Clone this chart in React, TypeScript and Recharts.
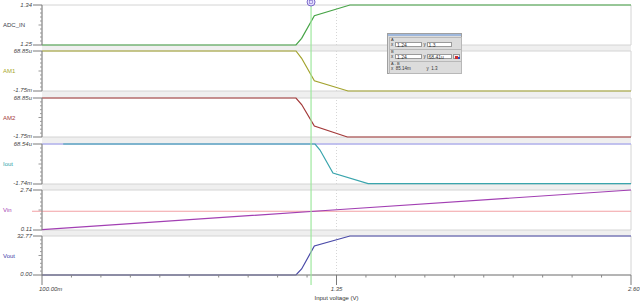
import React from 'react';
import { LineChart, Line, XAxis, YAxis, ReferenceLine, ReferenceArea, CartesianGrid } from 'recharts';

const X_DOMAIN: [number, number] = [0.1, 2.6];
const X_TICK_LABELS = ['100.00m', '1.35', '2.60'];
const X_MAJOR = [0.1, 1.35, 2.6];
const X_TITLE = 'Input voltage (V)';
const CURSOR_X = 1.242;
const GRID_X = 1.35;

const adcX = [0.1, 1.178, 1.202, 1.256, 1.407, 2.6];
const adcY = [1.25, 1.25, 1.265, 1.316, 1.34, 1.34];
const am1X = [0.1, 1.178, 1.202, 1.256, 1.399, 2.6];
const am1Y = [68.85e-6, 68.85e-6, -0.263e-3, -1.282e-3, -1.75e-3, -1.75e-3];
const am2X = [0.1, 1.178, 1.202, 1.256, 1.396, 2.6];
const am2Y = [68.85e-6, 68.85e-6, -0.234e-3, -1.237e-3, -1.75e-3, -1.75e-3];
const ioutX = [0.19, 1.259, 1.28, 1.335, 1.484, 2.6];
const ioutY = [68.54e-6, 68.54e-6, -0.203e-3, -1.243e-3, -1.72e-3, -1.72e-3];
const ioutTopX = [0.1, 2.6];
const ioutTopY = [68.54e-6, 68.54e-6];
const vinX = [0.1, 1.35, 2.6];
const vinY = [0.13, 1.44, 2.74];
const VIN_REF = 1.34;
const voutX = [0.1, 1.178, 1.202, 1.256, 1.407, 2.6];
const voutY = [0, 0, 5.04, 24.37, 32.77, 32.77];

type PanelCfg = {
  name: string;
  color: string;
  labelColor: string;
  top: number;
  bottom: number;
  xs: number[];
  ys: number[];
  domain: [number, number];
  labels: [string, string];
};

const PANELS: PanelCfg[] = [
  { name: 'ADC_IN', color: '#47a447', labelColor: '#3a3a4a', top: 5, bottom: 45, xs: adcX, ys: adcY, domain: [1.25, 1.34], labels: ['1.25', '1.34'] },
  { name: 'AM1', color: '#a3a32e', labelColor: '#a8a82a', top: 51, bottom: 91, xs: am1X, ys: am1Y, domain: [-1.75e-3, 68.85e-6], labels: ['-1.75m', '68.85u'] },
  { name: 'AM2', color: '#a33838', labelColor: '#a33838', top: 98, bottom: 137, xs: am2X, ys: am2Y, domain: [-1.75e-3, 68.85e-6], labels: ['-1.75m', '68.85u'] },
  { name: 'Iout', color: '#3aa5ad', labelColor: '#2f9fa8', top: 144, bottom: 184, xs: ioutX, ys: ioutY, domain: [-1.74e-3, 68.54e-6], labels: ['-1.74m', '68.54u'] },
  { name: 'Vin', color: '#a23fb3', labelColor: '#a23fb3', top: 190, bottom: 230, xs: vinX, ys: vinY, domain: [0.11, 2.74], labels: ['0.11', '2.74'] },
  { name: 'Vout', color: '#4a4aa8', labelColor: '#3d3da8', top: 236, bottom: 275, xs: voutX, ys: voutY, domain: [0, 32.77], labels: ['0.00', '32.77'] },
];

const AXIS_X = 42;
const RIGHT_X = 631;
const FONT = '"Liberation Sans", Arial, sans-serif';
const N_YTICKS = 11;

const makeYTick = (labels: [string, string]) => (props: any) => {
  const { y, index } = props;
  if (index === 0 || index === N_YTICKS - 1) {
    const label = index === 0 ? labels[0] : labels[1];
    const dy = index === 0 ? -1 : 0.6;
    return (
      <g>
        <line x1={33} x2={AXIS_X} y1={y} y2={y} stroke="#7a7a7a" strokeWidth={1} />
        <text x={32} y={y + dy} textAnchor="end" dominantBaseline="middle" fontSize={6} fontStyle="italic" fill="#444" fontFamily={FONT}>
          {label}
        </text>
      </g>
    );
  }
  const len = index === 5 ? 3.5 : 2;
  return <line x1={AXIS_X - len} x2={AXIS_X} y1={y} y2={y} stroke="#999" strokeWidth={1} />;
};

const xTicks: number[] = [];
for (let i = 0; i <= 20; i++) xTicks.push(0.1 + i * 0.125);

const makeXTick = (axisY: number) => (props: any) => {
  const { x, payload } = props;
  const v = payload.value;
  const majorIdx = X_MAJOR.findIndex((m) => Math.abs(m - v) < 1e-6);
  if (majorIdx >= 0) {
    const anchor = majorIdx === 1 ? 'middle' : 'start';
    const dx = majorIdx === 1 ? 0 : -3;
    return (
      <g>
        <line x1={x} x2={x} y1={axisY} y2={axisY + 10} stroke="#7a7a7a" />
        <text x={x + dx} y={axisY + 14.5} textAnchor={anchor} dominantBaseline="middle" fontSize={6} fontStyle="italic" fill="#444" fontFamily={FONT}>
          {X_TICK_LABELS[majorIdx]}
        </text>
      </g>
    );
  }
  return <line x1={x} x2={x} y1={axisY} y2={axisY + 2.5} stroke="#888" />;
};

function Panel({ cfg, last }: { cfg: PanelCfg; last: boolean }) {
  const data = cfg.xs.map((x, i) => ({ x, y: cfg.ys[i] }));
  const [min, max] = cfg.domain;
  const yTicks = Array.from({ length: N_YTICKS }, (_, i) => min + ((max - min) * i) / (N_YTICKS - 1));
  const chartTop = cfg.top - 3;
  const xAxisH = 27;
  const height = last ? 302 - chartTop : cfg.bottom - cfg.top + 6;
  const axisY = cfg.bottom - chartTop;
  const topData = ioutTopX.map((x, i) => ({ x, y: ioutTopY[i] }));
  return (
    <div style={{ position: 'absolute', left: 0, top: chartTop }}>
      <LineChart width={640} height={height} data={data} margin={{ top: 3, bottom: last ? 0 : 3, left: 0, right: 640 - RIGHT_X }}>
        <CartesianGrid horizontal={false} vertical={false} fill="#ffffff" />
        <XAxis
          dataKey="x"
          type="number"
          domain={X_DOMAIN}
          hide={!last}
          height={xAxisH}
          ticks={xTicks}
          interval={0}
          tick={makeXTick(axisY)}
          tickLine={false}
          axisLine={{ stroke: '#808080' }}
          label={{ value: X_TITLE, position: 'insideBottom', offset: 2, fontSize: 6, fill: '#333', fontFamily: FONT }}
        />
        <YAxis
          type="number"
          domain={cfg.domain}
          width={AXIS_X}
          ticks={yTicks}
          interval={0}
          tick={makeYTick(cfg.labels)}
          tickLine={false}
          axisLine={{ stroke: '#808080' }}
        />
        <ReferenceArea x1={X_DOMAIN[0]} x2={X_DOMAIN[1]} y1={min} y2={max} fill="none" stroke="#d4d4d4" ifOverflow="visible" />
        <ReferenceLine x={GRID_X} stroke="#d6d6d6" strokeDasharray="1 2" />
        {cfg.name === 'Vin' && (
          <ReferenceLine
            segment={[{ x: 0.0576, y: VIN_REF }, { x: X_DOMAIN[1], y: VIN_REF }]}
            stroke="#f2a0a4"
            strokeWidth={1.1}
            ifOverflow="visible"
          />
        )}
        {cfg.name === 'Iout' && (
          <Line data={topData} type="linear" dataKey="y" stroke="#b4b4f0" strokeWidth={1.3} dot={false} isAnimationActive={false} />
        )}
        <Line type="linear" dataKey="y" stroke={cfg.color} strokeWidth={1.2} dot={false} isAnimationActive={false} />
      </LineChart>
    </div>
  );
}

const CursorHandle = (props: any) => {
  const vb = props.viewBox || {};
  const x = vb.x ?? 0;
  return (
    <g>
      <circle cx={x} cy={2} r={4} fill="#e6e0ff" stroke="#7a68c8" strokeWidth={1} />
      <rect x={x - 1.5} y={0.5} width={3} height={3} fill="none" stroke="#7a68c8" strokeWidth={0.6} />
    </g>
  );
};

function CursorOverlay() {
  const data = [{ x: X_DOMAIN[0], y: 0 }, { x: X_DOMAIN[1], y: 1 }];
  return (
    <div style={{ position: 'absolute', left: 0, top: 0, pointerEvents: 'none' }}>
      <LineChart width={640} height={302} data={data} margin={{ top: 3, bottom: 17, left: AXIS_X, right: 640 - RIGHT_X }}>
        <XAxis dataKey="x" type="number" domain={X_DOMAIN} hide />
        <YAxis type="number" domain={[0, 1]} hide />
        <Line type="linear" dataKey="y" stroke="none" dot={false} isAnimationActive={false} />
        <ReferenceLine x={CURSOR_X} stroke="#9fe89f" strokeWidth={1.2} label={<CursorHandle />} ifOverflow="visible" />
      </LineChart>
    </div>
  );
}

const txt: React.CSSProperties = { position: 'absolute', fontFamily: FONT, fontSize: 5.5, lineHeight: 1, color: '#333', whiteSpace: 'nowrap' };
const inp: React.CSSProperties = { position: 'absolute', background: '#fff', border: '0.5px solid #9a9a9a', height: 5, fontFamily: FONT, fontSize: 5, lineHeight: '5px', paddingLeft: 1, color: '#333', boxSizing: 'border-box' };

function CursorBox() {
  const L = 387;
  const T = 33;
  return (
    <div style={{ position: 'absolute', left: L, top: T, width: 75, height: 41, background: '#dcdcdc', border: '1px solid #a0a0a0', boxSizing: 'border-box' }}>
      <div style={{ position: 'absolute', left: 0, top: 0, width: 73, height: 2, background: '#9fb8dc' }} />
      <div style={{ position: 'absolute', left: 1, top: 3, width: 71, height: 11, border: '0.5px solid #b8b8b8' }} />
      <div style={{ position: 'absolute', left: 1, top: 15, width: 71, height: 11, border: '0.5px solid #b8b8b8' }} />
      <div style={{ position: 'absolute', left: 1, top: 27, width: 71, height: 11, border: '0.5px solid #b8b8b8' }} />
      <span style={{ ...txt, left: 3, top: 3.5, fontSize: 4 }}>A</span>
      <span style={{ ...txt, left: 3, top: 8.5, fontSize: 4.5 }}>x</span>
      <div style={{ ...inp, left: 7, top: 8, width: 27 }}>1.24</div>
      <span style={{ ...txt, left: 35.5, top: 8.5, fontSize: 4.5 }}>y</span>
      <div style={{ ...inp, left: 38.5, top: 8, width: 25 }}>1.3</div>
      <span style={{ ...txt, left: 3, top: 15.5, fontSize: 4 }}>B</span>
      <span style={{ ...txt, left: 3, top: 20.5, fontSize: 4.5 }}>x</span>
      <div style={{ ...inp, left: 7, top: 20, width: 27 }}>1.24</div>
      <span style={{ ...txt, left: 35.5, top: 20.5, fontSize: 4.5 }}>y</span>
      <div style={{ ...inp, left: 38.5, top: 20, width: 25 }}>68.41u</div>
      <div style={{ position: 'absolute', left: 65, top: 20, width: 7, height: 5, background: '#eee', border: '0.5px solid #999', boxSizing: 'border-box' }}>
        <div style={{ position: 'absolute', left: 1, top: 1, width: 2.5, height: 2.5, background: '#d03030' }} />
        <div style={{ position: 'absolute', left: 3.5, top: 1.5, width: 2, height: 2, background: '#3050c0' }} />
      </div>
      <span style={{ ...txt, left: 3, top: 27.5, fontSize: 4 }}>A - B</span>
      <span style={{ ...txt, left: 3, top: 32.5, fontSize: 4.5 }}>x&nbsp;&nbsp;85.14m</span>
      <span style={{ ...txt, left: 38.5, top: 32.5, fontSize: 4.5 }}>y&nbsp;&nbsp;1.3</span>
    </div>
  );
}

export default function App() {
  return (
    <div style={{ position: 'absolute', left: 0, top: 0, width: 640, height: 302, background: '#fff', overflow: 'hidden', fontFamily: FONT }}>
      <div style={{ position: 'absolute', left: AXIS_X, top: 5, width: RIGHT_X - AXIS_X, height: 270, background: '#efefef' }} />
      {PANELS.map((p, i) => (
        <Panel key={p.name} cfg={p} last={i === PANELS.length - 1} />
      ))}
      {PANELS.map((p) => (
        <span key={'lbl' + p.name} style={{ ...txt, fontSize: 6, left: 3, top: (p.top + p.bottom) / 2 - 3, color: p.labelColor }}>
          {p.name}
        </span>
      ))}
      <CursorOverlay />
      <CursorBox />
    </div>
  );
}
